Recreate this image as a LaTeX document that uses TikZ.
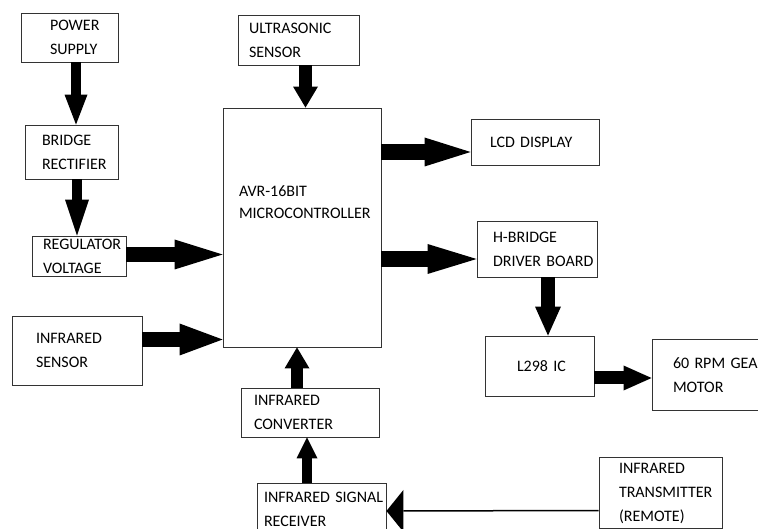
\documentclass[tikz,border=0pt]{standalone}
\usepackage{fontspec}
\setmainfont{Carlito}
\usetikzlibrary{arrows.meta,positioning}

\tikzset{
  blk/.style={draw=black!80, line width=0.9pt, align=left, inner ysep=0pt,
    font=\fontsize{16}{24}\selectfont},
  fat/.style n args={3}{line width=#1,
    -{Triangle[length=#2, width=#3, line width=0pt]}},
}

\begin{document}
\begin{tikzpicture}[x=1pt, y=-1pt]
  % page frame
  \useasboundingbox (0,0) rectangle (758,529);
  \clip (0,0) rectangle (758,529);
  % blocks on the left
  \node[blk, minimum width=97pt, minimum height=49pt, inner xsep=29pt, text width=39pt]
    (power) at (69.5,37.5) {POWER\\SUPPLY};
  \node[blk, minimum width=93pt, minimum height=54pt, inner xsep=17pt, text width=59pt]
    (bridge) at (71.5,152) {BRIDGE\\RECTIFIER};
  \node[blk, minimum width=94pt, minimum height=40pt, inner xsep=11pt, text width=72pt]
    (reg) at (79,256) {REGULATOR\\VOLTAGE};
  \node[blk, minimum width=130pt, minimum height=69pt, inner xsep=24pt, text width=82pt]
    (irs) at (77,350.5) {INFRARED\\SENSOR};
  % microcontroller and its neighbours
  \node[blk, minimum width=121pt, minimum height=50pt, inner xsep=11pt, text width=99pt]
    (ultra) at (298.5,40) {ULTRASONIC\\SENSOR};
  \node[blk, minimum width=158pt, minimum height=239pt] (micro) at (302,227.5) {};
  \node[blk, draw=none, inner sep=0pt, font=\fontsize{16}{22}\selectfont,
    below right=78pt and 16pt of micro.north west] (microtxt) {AVR-16BIT\\MICROCONTROLLER};
  \node[blk, minimum width=138pt, minimum height=49pt, inner xsep=13pt, text width=112pt]
    (conv) at (310,412.5) {INFRARED\\CONVERTER};
  \node[blk, minimum width=129pt, minimum height=52pt, inner xsep=7pt, text width=115pt]
    (recv) at (321.5,509) {\mbox{INFRARED SIGNAL}\\RECEIVER};
  % blocks on the right
  \node[blk, minimum width=128pt, minimum height=46pt, inner xsep=19pt, text width=90pt]
    (lcd) at (535,142) {\mbox{LCD DISPLAY}};
  \node[blk, minimum width=120pt, minimum height=56pt, inner xsep=16pt, text width=88pt]
    (hbr) at (537,249) {H-BRIDGE\\\mbox{DRIVER BOARD}};
  \node[blk, minimum width=109pt, minimum height=60pt, inner xsep=32pt, text width=45pt]
    (l298) at (539.5,366) {\mbox{L298 IC}};
  \node[blk, minimum width=118pt, minimum height=71pt, inner xsep=21pt, text width=76pt]
    (motor) at (711,375) {\mbox{60 RPM GEAR}\\MOTOR};
  \node[blk, minimum width=123pt, minimum height=71pt, inner xsep=20pt, text width=83pt]
    (trans) at (660.5,493) {INFRARED\\TRANSMITTER\\(REMOTE)};
  % fat arrows
  \draw[fat={10pt}{30pt}{23pt}] ([xshift=6.5pt]power.south) -- ([xshift=4.5pt]bridge.north);
  \draw[fat={10pt}{36pt}{24pt}] ([xshift=5.5pt]bridge.south) -- ([xshift=-2pt]reg.north);
  \draw[fat={13pt}{21pt}{25pt}] ([xshift=7pt]ultra.south) -- ([xshift=3.5pt]micro.north);
  \draw[fat={15pt}{48pt}{30pt}] ([yshift=1.5pt]reg.east) -- ([yshift=-27pt]micro.west);
  \draw[fat={15pt}{43pt}{32pt}] ([yshift=11pt]irs.east) -- ([yshift=-112pt]micro.west);
  \draw[fat={16pt}{46pt}{29pt}] ([yshift=75.5pt]micro.east) -- ([yshift=-10pt]lcd.west);
  \draw[fat={16pt}{49pt}{30pt}] ([yshift=-31.5pt]micro.east) -- ([yshift=-10pt]hbr.west);
  \draw[fat={14pt}{29pt}{26pt}] ([xshift=11pt]hbr.south) -- ([xshift=8.5pt]l298.north);
  \draw[fat={13pt}{28pt}{25pt}] ([yshift=-12pt]l298.east) -- ([yshift=-3pt]motor.west);
  \draw[fat={12pt}{21pt}{25pt}] ([xshift=-13pt]conv.north) -- ([xshift=-5pt]micro.south);
  \draw[fat={10pt}{21pt}{21pt}] ([xshift=-14.5pt]recv.north) -- ([xshift=-3pt]conv.south);
  % thin link from the remote
  \draw[line width=1.5pt, -{Triangle[length=17pt, width=42pt, line width=0pt]}]
    ([yshift=-17.5pt]trans.west) -- ([yshift=-2pt]recv.east);
\end{tikzpicture}
\end{document}
